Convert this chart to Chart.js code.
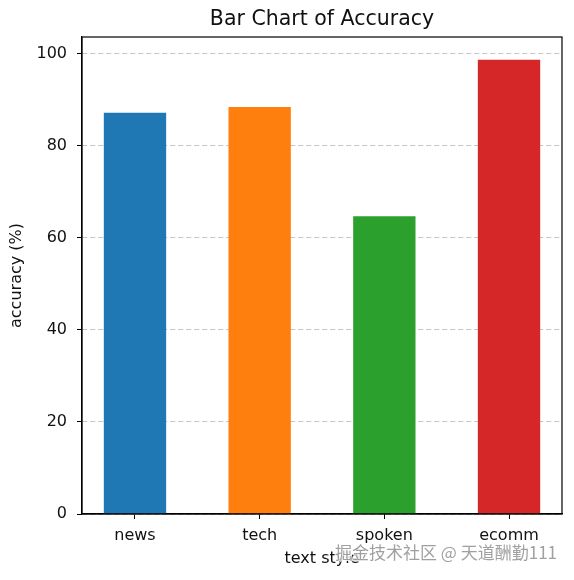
<!DOCTYPE html>
<html>
<head>
<meta charset="utf-8">
<script src="https://cdn.jsdelivr.net/npm/chart.js@4.4.1/dist/chart.umd.min.js"></script>
<style>
  html, body { margin: 0; padding: 0; background: #ffffff; }
  #wrap { width: 574px; height: 580px; }
</style>
</head>
<body>
<div id="wrap"><canvas id="c" width="574" height="580"></canvas></div>
<script>
const categories = ['news', 'tech', 'spoken', 'ecomm'];
const accuracy = [87.2, 88.4, 64.7, 98.7];
const barColors = ['#1f77b4', '#ff7f0e', '#2ca02c', '#d62728'];
const yTicks = [0, 20, 40, 60, 80, 100];
const chartTitle = 'Bar Chart of Accuracy';
const xTitle = 'text style';
const yTitle = 'accuracy (%)';
const watermark = '掘金技术社区 @ 天道酬勤111';

const FONT = "'DejaVu Sans', sans-serif";
const points = categories.map((c, i) => ({ x: i, y: accuracy[i] }));
const yMax = Math.max(...accuracy) * 1.05;

const framePlugin = {
  id: 'frame',
  afterDatasetsDraw(chart) {
    const { ctx, chartArea: a } = chart;
    ctx.save();
    ctx.strokeStyle = '#000000';
    ctx.lineWidth = 1.2;
    ctx.strokeRect(a.left, a.top, a.right - a.left, a.bottom - a.top);
    ctx.restore();
  },
  afterDraw(chart) {
    const { ctx, chartArea: a } = chart;
    ctx.save();
    // title centred over the plotting area
    ctx.font = "20.5px " + FONT;
    ctx.fillStyle = '#111111';
    ctx.textAlign = 'center';
    ctx.textBaseline = 'middle';
    ctx.fillText(chartTitle, (a.left + a.right) / 2, 20);
    // watermark
    ctx.font = "17px 'Noto Sans CJK SC', sans-serif";
    ctx.textAlign = 'right';
    ctx.lineWidth = 2;
    ctx.strokeStyle = 'rgba(255,255,255,0.85)';
    ctx.strokeText(watermark, a.right - 5, 553);
    ctx.fillStyle = 'rgba(120,120,120,0.7)';
    ctx.fillText(watermark, a.right - 5, 553);
    ctx.restore();
  }
};

new Chart(document.getElementById('c'), {
  type: 'bar',
  data: {
    datasets: [{
      data: points,
      backgroundColor: barColors,
      borderWidth: 0,
      barPercentage: 0.5,
      categoryPercentage: 1.0
    }]
  },
  options: {
    responsive: false,
    animation: false,
    devicePixelRatio: 1,
    layout: { padding: { left: 0, right: 12, top: 37, bottom: 0 } },
    plugins: {
      legend: { display: false },
      tooltip: { enabled: false },
      title: { display: false }
    },
    scales: {
      x: {
        type: 'linear',
        offset: false,
        min: -0.425,
        max: 3.425,
        afterBuildTicks(s) { s.ticks = categories.map((c, i) => ({ value: i })); },
        afterFit(s) { s.height = 66; },
        ticks: {
          color: '#111111',
          font: { family: FONT, size: 16 },
          padding: 7,
          callback: (v) => categories[v]
        },
        grid: { offset: false, drawOnChartArea: false, drawTicks: true, tickLength: 5, tickColor: '#000000', tickWidth: 1 },
        border: { display: true, color: '#000000', width: 1.2 },
        title: {
          display: true,
          text: xTitle,
          color: '#111111',
          font: { family: FONT, size: 16 },
          padding: { top: 0, bottom: 12 }
        }
      },
      y: {
        min: 0,
        max: yMax,
        afterBuildTicks(s) { s.ticks = yTicks.map(v => ({ value: v })); },
        afterFit(s) { s.width = 82; },
        ticks: {
          color: '#111111',
          font: { family: FONT, size: 16 },
          padding: 10
        },
        grid: {
          color: 'rgba(176,176,176,0.75)',
          lineWidth: 1,
          tickColor: '#000000',
          tickLength: 5,
          tickWidth: 1,
          tickBorderDash: []
        },
        border: { display: true, color: '#000000', width: 1.2, dash: [5, 3] },
        title: {
          display: true,
          text: yTitle,
          color: '#111111',
          font: { family: FONT, size: 16 },
          padding: { top: 7, bottom: 0 }
        }
      }
    }
  },
  plugins: [framePlugin]
});
</script>
</body>
</html>
